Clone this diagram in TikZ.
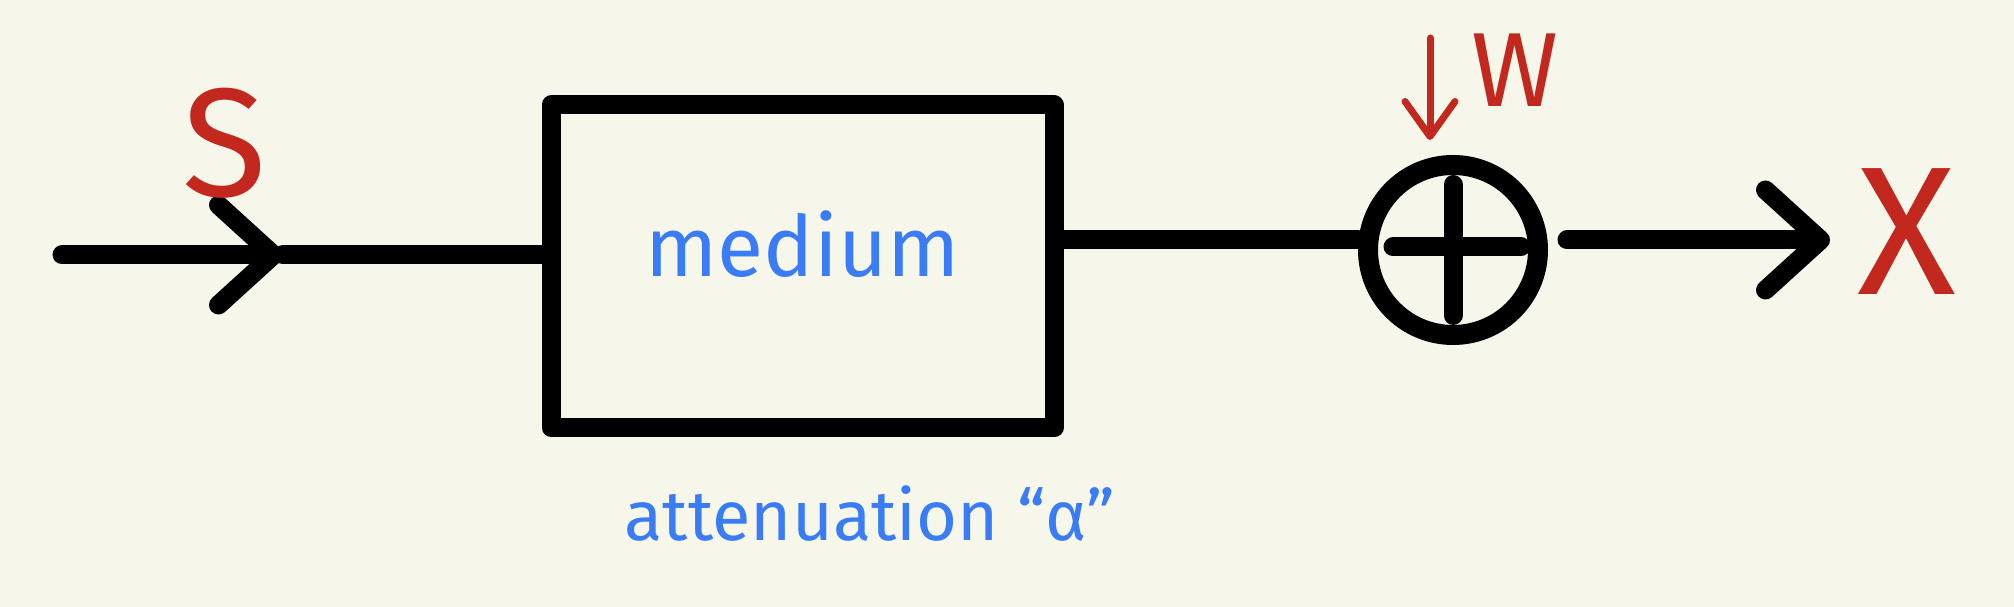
\documentclass[tikz,border=0pt]{standalone}
\usepackage{fontspec}
\setmainfont{Fira Sans}
\usetikzlibrary{calc}
\usetikzlibrary{arrows.meta}
\definecolor{paper}{RGB}{246,247,234}
\definecolor{inkred}{RGB}{194,40,30}
\definecolor{inkblue}{RGB}{58,124,246}

\begin{document}
\begin{tikzpicture}[
    wire/.style={line width=0.19cm, line cap=round},
    barb/.style={-{Straight Barb[length=5.5mm,width=10mm,round]}},
    noise/.style={draw=inkred, line width=0.07cm, line cap=round, -{Straight Barb[length=3.5mm,width=5mm,round]}},
    hand/.style={inner sep=0pt}
  ]
    \fill[paper] (0,0) rectangle (20.14,-6.07);
    \useasboundingbox (0,0) rectangle (20.14,-6.07);
    \coordinate (In) at (0.62,-2.55);
    \coordinate (Mid) at (2.83,-2.55);
    \coordinate (Out) at (18.30,-2.40);
    \coordinate (NoiseTail) at (14.30,-0.38);
    \node[draw, line width=0.19cm, line join=round, minimum width=5.03cm, minimum height=3.23cm,
          text=inkblue, font=\fontsize{24}{28}\selectfont, text height=0.62cm, text depth=0.41cm] (box) at (8.025,-2.665) {medium};
    \node[draw, circle, line width=0.2cm, minimum size=1.7cm, inner sep=0pt] (sum) at (14.53,-2.50) {};
    \draw[wire, barb] (In) -- (Mid);
    \draw[wire] (Mid) -- (Mid -| box.west);
    \draw[wire] (box.east |- Out) -- (sum.west |- Out);
    \draw[wire, barb] ($(sum.east |- Out)+(0.19,0)$) -- (Out);
    % the plus inside the adder
    \draw[wire] ($(sum.center)+(-0.6,0.03)$) -- ($(sum.center)+(0.68,0.03)$);
    \draw[wire] ($(sum.center)+(0,0.655)$) -- ($(sum.center)+(0,-0.655)$);
    \draw[noise] (NoiseTail) -- ($(NoiseTail |- sum.north)+(0,0.15)$);
    \node[hand, text=inkred, font=\fontsize{44}{48}\selectfont] (s) at (2.25,-1.43) {S};
    \node[hand, text=inkred, font=\fontsize{30}{34}\selectfont] (w) at (15.15,-0.70) {W};
    \node[hand, text=inkred, font=\fontsize{52}{56}\selectfont] (x) at (19.07,-2.32) {X};
    \node[hand, text=inkblue, font=\fontsize{20}{24}\selectfont, anchor=base] (att) at (8.70,-5.41) {attenuation “α”};
  \end{tikzpicture}
\end{document}
